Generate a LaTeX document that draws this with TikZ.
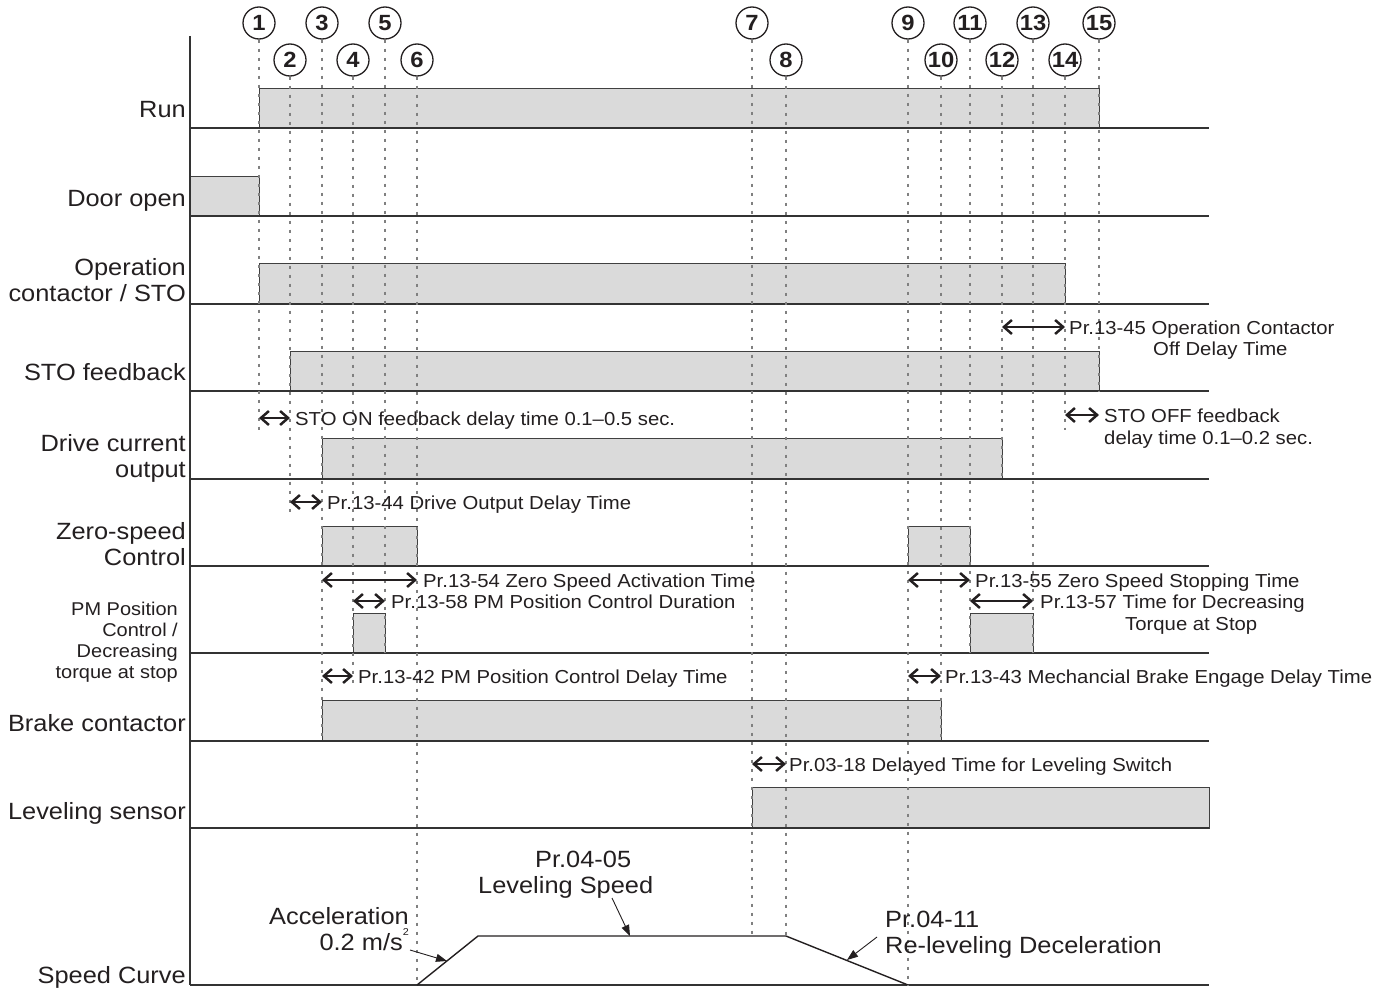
\documentclass[tikz,border=0pt]{standalone}
\usepackage{fontspec}
\setmainfont{Liberation Sans}[FakeStretch=1.08]
\usetikzlibrary{arrows.meta}

\definecolor{sigfill}{HTML}{DADADA}
\definecolor{inkdark}{HTML}{231F20}

\tikzset{
  sig/.style={fill=sigfill, draw=black!75, line width=0.8pt},
  rowline/.style={draw=black!80, line width=1.4pt},
  tline/.style={draw=black!50, line width=2pt, dash pattern=on 3pt off 6pt},
  dly/.style={{Straight Barb[length=8pt,width=14pt]}-{Straight Barb[length=8pt,width=14pt]}, line width=2.5pt, draw=inkdark},
  ptr/.style={-{Triangle[length=11pt,width=8pt]}, line width=0.9pt, draw=inkdark},
  lbl/.style={font=\fontsize{23.5}{26}\selectfont, anchor=base east, align=right, inner sep=0pt, text=inkdark},
  ann/.style={font=\fontsize{18.8}{21.5}\selectfont, anchor=base west, inner sep=0pt, text=inkdark},
  num/.style={circle, draw=inkdark, line width=1.3pt, minimum size=32pt, inner sep=0pt, text=inkdark, font=\bfseries\fontsize{22}{22}\selectfont},
}

\begin{document}
\begin{tikzpicture}[x=1pt,y=-1pt]
\useasboundingbox (0,0) rectangle (1391,990);

% time marks
\foreach \i/\x in {1/259,2/290,3/322,4/353,5/385,6/417,7/752,8/786,9/908,10/941,11/970,12/1002,13/1033,14/1065,15/1099}
  \coordinate (t\i) at (\x,0);

% signal levels
\draw[sig] (259,88) rectangle (1099,128);
\draw[sig] (190,176) rectangle (259,216);
\draw[sig] (259,263) rectangle (1065,304);
\draw[sig] (290,351) rectangle (1099,391);
\draw[sig] (322,438) rectangle (1002,479);
\draw[sig] (322,526) rectangle (417,566);
\draw[sig] (908,526) rectangle (970,566);
\draw[sig] (353,613) rectangle (385,653);
\draw[sig] (970,613) rectangle (1033,653);
\draw[sig] (322,700) rectangle (941,741);
\draw[sig] (752,787) rectangle (1209,828);

\draw[rowline] (190,36) -- (190,985);
\foreach \y in {128,216,304,391,479,566,653,741,828,985}
  \draw[rowline] (190,\y) -- (1209,\y);

% speed curve
\draw[line width=1.4pt, draw=inkdark] (417,985) -- (478,936) -- (786,936) -- (908,985);

% numbered instants
\foreach \i in {1,3,5,7,9,11,13,15}
  \node[num] (n\i) at (t\i |- 0,23) {\i};
\foreach \i in {2,4,6,8,10,12,14}
  \node[num] (n\i) at (t\i |- 0,60) {\i};
\foreach \i/\yend in {1/433,2/517,3/740,4/688,5/653,6/985,7/935,8/935,9/985,10/740,11/653,12/478,13/653,14/430,15/391}
  \draw[tline] (n\i.south) -- (n\i.south |- 0,\yend);

% row labels
\node[lbl] (lrun) at (186,117) {Run};
\node[lbl] (ldoor) at (186,206) {Door open};
\node[lbl] (lop) at (186,301) {Operation\\contactor / STO};
\node[lbl] (lsto) at (186,380) {STO feedback};
\node[lbl] (ldrv) at (186,477) {Drive current\\output};
\node[lbl] (lzero) at (186,565) {Zero-speed\\Control};
\node[lbl, font=\fontsize{18.5}{21}\selectfont] (lpm) at (178,678) {PM Position\\Control /\\Decreasing\\torque at stop};
\node[lbl] (lbrk) at (186,731) {Brake contactor};
\node[lbl] (llev) at (186,819) {Leveling sensor};
\node[lbl] (lspd) at (186,983) {Speed Curve};

% delay times
\draw[dly] (t1 |- 0,418) -- (t2 |- 0,418);
\node[ann] (a1) at (295,425) {STO ON feedback delay time 0.1\textendash0.5 sec.};
\draw[dly] (t2 |- 0,502) -- (t3 |- 0,502);
\node[ann] (a2) at (327,509) {Pr.13-44 Drive Output Delay Time};
\draw[dly] (t12 |- 0,327) -- (t14 |- 0,327);
\node[ann] (a3) at (1069,334) {Pr.13-45 Operation Contactor};
\node[ann] (a3b) at (1153,355) {Off Delay Time};
\draw[dly] (t14 |- 0,415) -- (t15 |- 0,415);
\node[ann] (a4) at (1104,422) {STO OFF feedback};
\node[ann] (a4b) at (1104,444) {delay time 0.1\textendash0.2 sec.};
\draw[dly] (t3 |- 0,580) -- (t6 |- 0,580);
\node[ann] (a5) at (423,587) {Pr.13-54 Zero Speed Activation Time};
\draw[dly] (t4 |- 0,601) -- (t5 |- 0,601);
\node[ann] (a6) at (391,608) {Pr.13-58 PM Position Control Duration};
\draw[dly] (t3 |- 0,676) -- (t4 |- 0,676);
\node[ann] (a7) at (358,683) {Pr.13-42 PM Position Control Delay Time};
\draw[dly] (t9 |- 0,580) -- (t11 |- 0,580);
\node[ann] (a8) at (975,587) {Pr.13-55 Zero Speed Stopping Time};
\draw[dly] (t11 |- 0,601) -- (t13 |- 0,601);
\node[ann] (a9) at (1040,608) {Pr.13-57 Time for Decreasing};
\node[ann] (a9b) at (1125,630) {Torque at Stop};
\draw[dly] (t9 |- 0,676) -- (t10 |- 0,676);
\node[ann] (a10) at (945,683) {Pr.13-43 Mechancial Brake Engage Delay Time};
\draw[dly] (t7 |- 0,764) -- (t8 |- 0,764);
\node[ann] (a11) at (789,771) {Pr.03-18 Delayed Time for Leveling Switch};

% speed curve notes
\node[lbl] (acc) at (409,950) {Acceleration\\0.2 m/s\raisebox{0.6em}{\fontsize{10}{10}\selectfont 2}};
\node[lbl, anchor=base west] (lvs1) at (535,867) {Pr.04-05};
\node[lbl, anchor=base west] (lvs2) at (478,893) {Leveling Speed};
\node[lbl, anchor=base west, align=left] (dec) at (885,953) {Pr.04-11\\Re-leveling Deceleration};
\coordinate (accpt) at (447,961);
\coordinate (lvspt) at (630,936);
\coordinate (decpt) at (847,960);
\draw[ptr] (410,950) -- (accpt);
\draw[ptr] (612,898) -- (lvspt);
\draw[ptr] (877,937) -- (decpt);
\end{tikzpicture}
\end{document}
